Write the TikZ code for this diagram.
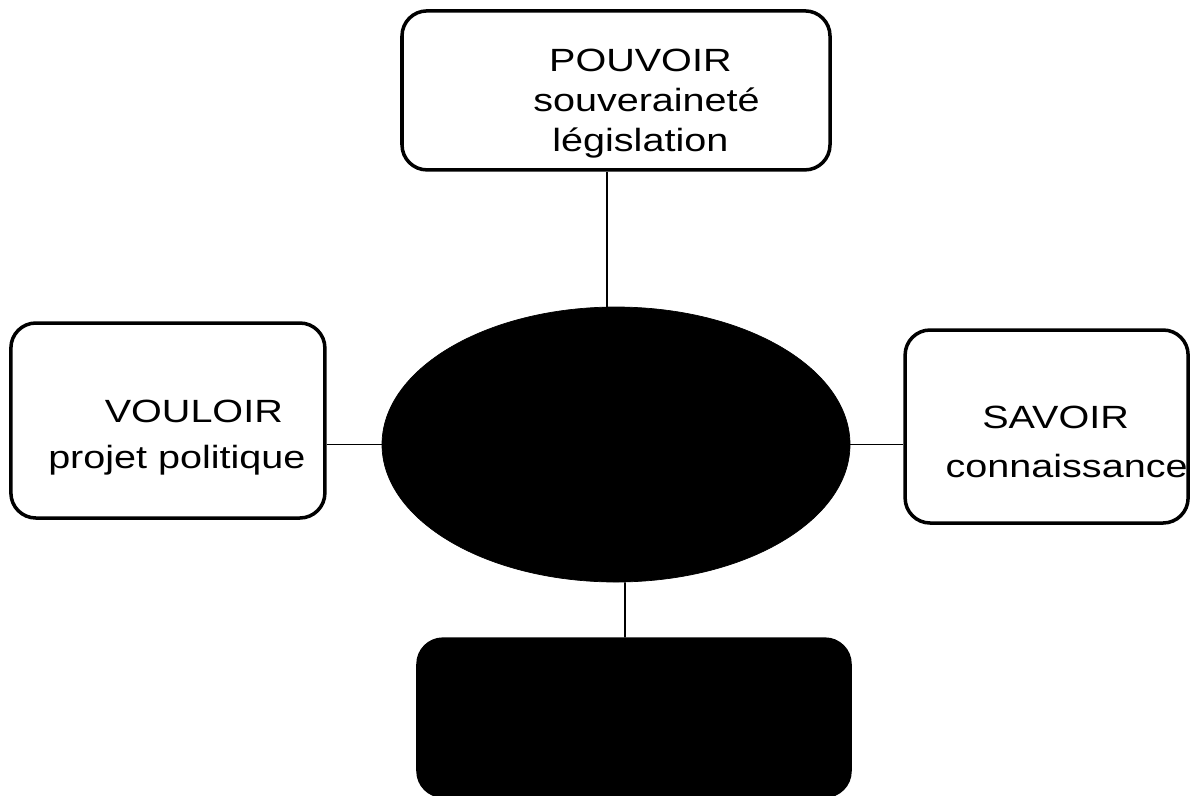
\documentclass[tikz,border=0pt]{standalone}
\usepackage{fontspec}
\setmainfont{Liberation Sans}
\usetikzlibrary{shapes, positioning}

\begin{document}
\begin{tikzpicture}[node distance=1.1cm,
  box/.style={draw, line width=2pt, rounded corners=0.5cm, inner sep=0pt},
  lbl/.style={font=\fontsize{18.3}{22.6}\selectfont, align=center, inner sep=0pt, xscale=1.23, anchor=north},
  link/.style={line width=1.1pt}]
  \useasboundingbox (0,0) rectangle (23.82,-15.9);

  % Nodes
  \node[draw, ellipse, fill=black, inner sep=0pt, minimum width=9.36cm, minimum height=5.5cm] (centre) at (12.32,-8.89) {};
  \node[box, above=2.7cm of centre, minimum width=8.56cm, minimum height=3.18cm] (pouvoir) {};
  \node[box, left=1.1cm of centre, yshift=0.48cm, minimum width=6.28cm, minimum height=3.9cm] (vouloir) {};
  \node[box, right=1.06cm of centre, yshift=0.36cm, minimum width=5.66cm, minimum height=3.86cm] (savoir) {};
  \node[box, fill=black, below=1.1cm of centre, xshift=0.36cm, minimum width=8.64cm, minimum height=3.14cm] (bas) {};

  % Texts
  \node[lbl] (pouvoirtxt) at ([xshift=0.61cm, yshift=-0.8cm]pouvoir.north) {POUVOIR\hspace*{0.2cm}\\souveraineté\\législation\hspace*{0.2cm}};
  \node[lbl] (vouloirtxt) at ([xshift=0.18cm, yshift=-1.56cm]vouloir.north) {\hspace*{0.55cm}VOULOIR\\[4.1pt]projet politique};
  \node[lbl] (savoirtxt) at ([xshift=0.4cm, yshift=-1.54cm]savoir.north) {SAVOIR\hspace*{0.36cm}\\[5.8pt]connaissance};

  % Connections
  \draw[link] ([xshift=-1.8mm]pouvoir.south) -- ([xshift=-1.8mm]centre.north);
  \draw[link] (vouloir.east |- centre.west) -- (centre.west);
  \draw[link] (centre.east) -- (savoir.west |- centre.east);
  \draw[link] ([xshift=1.8mm]centre.south) -- ([xshift=-1.8mm]bas.north);
\end{tikzpicture}
\end{document}
